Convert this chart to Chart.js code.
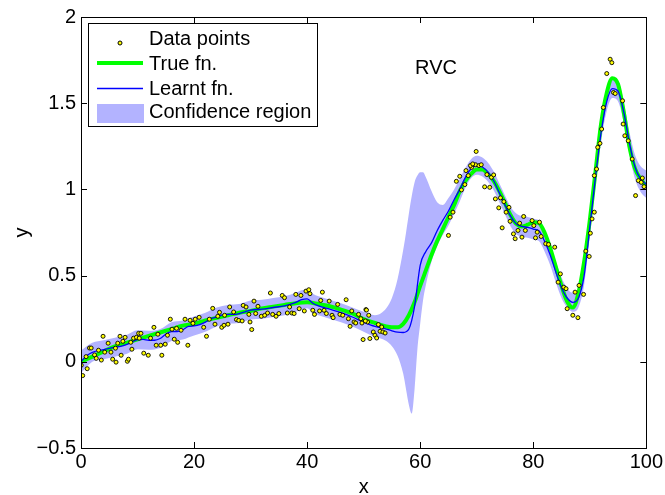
<!DOCTYPE html>
<html>
<head>
<meta charset="utf-8">
<script src="https://cdn.jsdelivr.net/npm/chart.js@4.4.0/dist/chart.umd.min.js"></script>
<style>
    html, body { margin: 0; padding: 0; background: #FFFFFF; }
    #grafico { display: block; }
</style>
</head>
<body>
<canvas id="grafico" width="665" height="495"></canvas>
<script>
// valores (estimados)
const pontosDados = [
    [0.05,-0.02],[0.3,-0.08],[1.1,-0.04],[0.9,0.03],[1.5,0.08],[1.8,0.08],[2.4,0.04],[2.7,0.02],[3.1,0.067],[3.6,0.01],
    [3.9,0.148],[4.2,0.056],[4.8,0.108],[5.3,0.056],[5.6,0.015],[6.2,-0.002],[6.1,0.079],[6.5,0.108],[6.9,0.148],[7.1,0.038],
    [7.4,0.119],[7.8,0.142],[8.2,0.003],[8.4,0.015],[8.8,0.113],[9.0,0.073],[9.3,0.137],[9.8,0.142],[10.2,0.165],[10.6,0.165],
    [10.3,0.137],[11.1,0.05],[11.9,0.038],[12.3,0.137],[12.9,0.2],[13.3,0.096],[13.6,0.16],[14.1,0.096],[14.3,0.038],[14.9,0.102],
    [15.3,0.154],[15.8,0.247],[16.1,0.189],[16.5,0.131],[16.9,0.194],[17.1,0.113],[17.7,0.183],[18.4,0.247],[18.9,0.096],[19.3,0.241],
    [19.8,0.223],[20.2,0.247],[20.9,0.258],[21.7,0.2],[22.2,0.148],[22.7,0.247],[23.3,0.31],[23.7,0.218],[24.2,0.264],[24.5,0.287],
    [24.9,0.2],[25.3,0.212],[25.4,0.27],[26.3,0.318],[26.0,0.218],[27.0,0.289],[27.5,0.245],[27.9,0.24],[28.5,0.237],[28.7,0.327],
    [29.2,0.318],[29.7,0.275],[29.9,0.231],[30.2,0.187],[30.6,0.352],[30.9,0.28],[31.3,0.322],[31.9,0.264],[32.5,0.27],[33.0,0.283],
    [33.5,0.399],[33.9,0.275],[34.5,0.264],[35.0,0.28],[35.6,0.385],[36.0,0.372],[36.5,0.283],[36.9,0.318],[37.3,0.283],[37.7,0.28],
    [38.0,0.391],[38.6,0.308],[38.9,0.385],[39.5,0.295],[39.8,0.41],[40.3,0.418],[40.5,0.395],[41.0,0.299],[41.3,0.275],[42.2,0.295],
    [42.4,0.356],[42.7,0.404],[43.0,0.299],[43.4,0.28],[43.9,0.352],[44.4,0.27],[44.6,0.256],[45.4,0.333],[45.8,0.275],[46.3,0.27],
    [46.9,0.36],[47.3,0.25],[47.6,0.206],[47.9,0.295],[48.3,0.231],[48.6,0.225],[49.1,0.275],[49.5,0.25],[49.9,0.129],[50.4,0.303],
    [50.7,0.231],[49.7,0.225],[50.5,0.30],[50.3,0.237],[50.9,0.27],[51.1,0.135],[51.7,0.173],[52.0,0.154],[52.3,0.138],[52.6,0.216],
    [52.9,0.177],[53.2,0.202],[53.4,0.173],[53.8,0.167],
    [65.0,0.733],[65.3,0.839],[65.8,0.868],[66.4,1.047],[67.0,1.076],[67.3,0.997],[67.9,1.028],[68.1,1.109],[68.5,1.08],[69.1,1.128],
    [69.8,1.143],[68.9,1.138],[69.3,1.148],[69.9,1.22],[70.4,1.138],[70.8,1.143],[71.8,1.086],[72.6,1.07],[73.0,1.084],[71.4,1.015],
    [72.3,1.012],[73.3,0.945],[73.9,0.893],[74.2,0.951],[74.8,0.929],[75.2,0.868],[75.7,0.896],[74.5,0.777],[75.9,0.815],[76.5,0.742],
    [76.8,0.714],[77.3,0.762],[77.6,0.804],[78.0,0.723],[78.3,0.843],[78.6,0.762],[79.8,0.819],[80.1,0.79],[80.4,0.719],[80.7,0.752],
    [81.1,0.81],[81.4,0.727],[82.2,0.685],[82.7,0.681],[83.8,0.665],[84.4,0.462],[84.8,0.51],[85.4,0.433],[85.8,0.424],[86.0,0.308],
    [87.0,0.27],[87.9,0.256],[87.4,0.404],[88.1,0.443],[88.9,0.391],[89.3,0.642],[89.9,0.611],[90.1,0.746],[90.4,0.829],[90.8,0.868],
    [90.8,1.08],[91.2,1.118],[91.4,1.244],[91.8,1.267],[92.1,1.35],[92.4,1.475],[93.0,1.672],[93.6,1.755],[93.9,1.735],[94.2,1.562],
    [94.5,1.556],[95.8,1.514],[95.9,1.379],[96.2,1.311],[96.8,1.282],[97.5,1.176],[98.1,0.964],[98.6,1.051],[99.1,1.041],[99.3,1.066],
    [99.6,1.016]
];

const xFuncaoReal = [0,2,4,6,8,10,12,14,16,18,20,22,24,26,28,30,32,34,36,38,40,42,44,46,48,50,52,54,
    55,56,57,58,59,60,61,62,63,64,65,66,67,68,69,70,71,72,73,74,75,76,77,78,79,80,81,82,83,84,
    85,86,87,88,89,90,91,92,93,94,95,96,97,98,99,100];
const yFuncaoReal = [0.0,0.03,0.06,0.09,0.11,0.13,0.15,0.17,0.19,0.21,0.22,0.24,0.255,0.27,0.285,0.295,0.31,0.32,0.33,0.34,
    0.345,0.335,0.322,0.303,0.28,0.248,0.225,0.205,
    0.2,0.2,0.22,0.27,0.345,0.44,0.53,0.62,0.7,0.77,0.84,0.91,0.99,1.05,1.09,1.115,1.115,1.09,1.05,0.99,
    0.92,0.85,0.8,0.785,0.795,0.81,0.805,0.75,0.66,0.55,0.44,0.35,0.315,0.4,0.58,0.82,1.1,1.38,1.56,1.645,
    1.61,1.45,1.25,1.12,1.06,1.02];

const xFuncaoAprendida = [0,1,2,3,4,5,6,7,8,9,10,11,12,13,14,15,16,17,18,19,20,21,22,23,24,25,26,27,28,29,30,
    32,34,36,38,39,40,41,42,44,46,48,50,52,54,
    55,56,57,58,59,60,61,62,63,64,65,66,67,68,69,70,71,72,73,74,75,76,77,78,79,80,81,82,83,84,
    85,86,87,88,89,90,91,92,93,94,95,96,97,98,99,100];
const yFuncaoAprendida = [0.0,0.035,0.055,0.065,0.07,0.078,0.085,0.09,0.1,0.115,
    0.128,0.13,0.125,0.125,0.135,0.16,0.175,0.175,0.185,0.205,
    0.208,0.215,0.23,0.25,0.26,0.272,0.275,0.275,0.28,0.29,0.3,
    0.305,0.315,0.325,0.345,0.36,0.365,0.34,0.325,0.305,0.285,0.26,0.23,0.205,0.19,
    0.18,0.172,0.17,0.19,0.32,0.56,0.64,0.69,0.76,0.82,0.875,0.94,1.0,1.07,1.12,1.14,1.13,1.1,1.05,0.98,
    0.91,0.845,0.8,0.785,0.78,0.77,0.76,0.7,0.62,0.52,0.43,0.37,0.345,0.37,0.5,0.78,1.07,1.33,1.51,1.585,
    1.57,1.45,1.27,1.13,1.06,1.03];

const xRegiao = [0,2,4,6,8,10,12,14,16,18,20,22,24,26,28,30,32,34,36,38,39,40,41,42,44,46,48,50,52,
    53,54,55,56,57,57.5,58,58.5,59,59.5,60,60.5,61,
    62,63,64,65,66,67,68,69,70,71,72,73,74,75,76,77,78,79,80,81,82,83,84,85,86,87,88,89,90,91,
    92,93,94,95,96,97,98,99,100];
const yRegiaoSup = [0.065,0.11,0.125,0.14,0.155,0.183,0.18,0.19,0.23,0.24,
    0.263,0.285,0.315,0.33,0.335,0.355,0.36,0.37,0.38,0.4,
    0.415,0.42,0.395,0.38,0.36,0.34,0.315,0.29,0.27,
    0.28,0.31,0.37,0.48,0.65,0.75,0.86,0.96,1.04,1.08,1.1,1.1,1.07,
    0.99,0.925,0.91,0.95,1.0,1.06,1.125,1.175,1.195,1.185,
    1.155,1.105,1.035,0.965,0.9,0.86,0.845,0.84,0.83,0.82,
    0.76,0.68,0.58,0.49,0.425,0.4,0.425,0.555,0.835,1.125,
    1.385,1.57,1.645,1.63,1.51,1.335,1.2,1.135,1.11];
const yRegiaoInf = [-0.065,0.0,0.015,0.03,0.045,0.073,0.07,0.08,0.12,0.13,
    0.153,0.175,0.205,0.22,0.225,0.245,0.25,0.26,0.27,0.29,
    0.305,0.31,0.285,0.27,0.25,0.23,0.205,0.175,0.145,
    0.135,0.12,0.09,0.035,-0.07,-0.16,-0.25,-0.3,-0.16,0.07,0.22,0.355,0.445,
    0.58,0.67,0.735,0.79,0.86,0.93,1.01,1.065,1.085,1.075,
    1.045,0.995,0.925,0.855,0.785,0.74,0.725,0.72,0.71,0.7,
    0.64,0.56,0.46,0.37,0.315,0.29,0.315,0.445,0.725,1.015,
    1.275,1.455,1.53,1.51,1.39,1.205,1.06,0.985,0.95];

const ticksX = [0, 20, 40, 60, 80, 100];
const ticksY = [-0.5, 0, 0.5, 1, 1.5, 2];
const rotulosLegenda = ['Data points', 'True fn.', 'Learnt fn.', 'Confidence region'];
const textoAnotacao = 'RVC';
const posicaoAnotacao = [62.8, 1.70];

const fonte = '"Liberation Sans", Arial, sans-serif';
const corPonto = '#FFFF00';
const corReal = '#00FF00';
const corAprendida = '#0000FF';
const corRegiao = '#B3B3FF';

function juntarXY(xs, ys) {
    return xs.map((x, i) => ({ x: x, y: ys[i] }));
}

function rotuloNumero(v) {
    return v < 0 ? '\u2212' + Math.abs(v) : String(v);
}

// moldura e ticks para dentro, estilo matlab
const pluginMoldura = {
    id: 'moldura',
    afterDatasetsDraw(chart) {
        const { ctx, chartArea: a, scales } = chart;
        ctx.save();
        ctx.strokeStyle = '#000000';
        ctx.lineWidth = 1;
        ctx.beginPath();
        scales.x.ticks.forEach(t => {
            const px = Math.round(scales.x.getPixelForValue(t.value)) + 0.5;
            ctx.moveTo(px, a.bottom); ctx.lineTo(px, a.bottom - 6);
            ctx.moveTo(px, a.top); ctx.lineTo(px, a.top + 6);
        });
        scales.y.ticks.forEach(t => {
            const py = Math.round(scales.y.getPixelForValue(t.value)) + 0.5;
            ctx.moveTo(a.left, py); ctx.lineTo(a.left + 6, py);
            ctx.moveTo(a.right, py); ctx.lineTo(a.right - 6, py);
        });
        ctx.stroke();
        ctx.strokeRect(Math.round(a.left) + 0.5, Math.round(a.top) + 0.5,
            Math.round(a.right - a.left), Math.round(a.bottom - a.top));
        ctx.restore();
    }
};

// legenda dentro do grafico + texto RVC
const pluginLegenda = {
    id: 'legendaInterna',
    afterDraw(chart) {
        const { ctx, chartArea: a, scales } = chart;
        ctx.save();

        ctx.font = '20px ' + fonte;
        ctx.fillStyle = '#000000';
        ctx.textAlign = 'center';
        ctx.textBaseline = 'middle';
        ctx.fillText(textoAnotacao,
            scales.x.getPixelForValue(posicaoAnotacao[0]),
            scales.y.getPixelForValue(posicaoAnotacao[1]));

        const caixa = { x: a.left + 7.5, y: a.top + 6.5, w: 229, h: 103 };
        ctx.fillStyle = '#FFFFFF';
        ctx.fillRect(caixa.x, caixa.y, caixa.w, caixa.h);
        ctx.strokeStyle = '#000000';
        ctx.lineWidth = 1;
        ctx.strokeRect(caixa.x, caixa.y, caixa.w, caixa.h);

        const x0 = a.left + 16;
        const x1 = a.left + 62;
        const xTexto = a.left + 68;
        const linhasTexto = [a.top + 22, a.top + 47, a.top + 72, a.top + 95.5];

        // marcador
        ctx.beginPath();
        ctx.arc((x0 + x1) / 2, a.top + 26, 2, 0, Math.PI * 2);
        ctx.fillStyle = corPonto;
        ctx.fill();
        ctx.lineWidth = 1;
        ctx.strokeStyle = '#000000';
        ctx.stroke();

        ctx.lineCap = 'butt';
        ctx.beginPath();
        ctx.moveTo(x0, a.top + 46); ctx.lineTo(x1, a.top + 46);
        ctx.strokeStyle = corReal; ctx.lineWidth = 4;
        ctx.stroke();

        ctx.beginPath();
        ctx.moveTo(x0, a.top + 71.5); ctx.lineTo(x1, a.top + 71.5);
        ctx.strokeStyle = corAprendida; ctx.lineWidth = 1.3;
        ctx.stroke();

        ctx.fillStyle = corRegiao;
        ctx.fillRect(x0, a.top + 87, x1 - x0 + 1, 19);

        ctx.fillStyle = '#000000';
        ctx.textAlign = 'left';
        ctx.textBaseline = 'middle';
        rotulosLegenda.forEach((r, i) => ctx.fillText(r, xTexto, linhasTexto[i]));

        ctx.restore();
    }
};

const ctx = document.getElementById('grafico').getContext('2d');

new Chart(ctx, {
    type: 'scatter',
    data: {
        datasets: [
            {
                label: rotulosLegenda[0],
                data: pontosDados.map(p => ({ x: p[0], y: p[1] })),
                pointRadius: 2,
                pointBorderWidth: 0.9,
                pointBackgroundColor: corPonto,
                pointBorderColor: '#000000',
                showLine: false
            },
            {
                label: rotulosLegenda[2],
                data: juntarXY(xFuncaoAprendida, yFuncaoAprendida),
                showLine: true,
                borderColor: corAprendida,
                borderWidth: 1.3,
                pointRadius: 0,
                cubicInterpolationMode: 'monotone',
                fill: false
            },
            {
                label: rotulosLegenda[1],
                data: juntarXY(xFuncaoReal, yFuncaoReal),
                showLine: true,
                borderColor: corReal,
                borderWidth: 4,
                pointRadius: 0,
                cubicInterpolationMode: 'monotone',
                fill: false
            },
            {
                label: rotulosLegenda[3],
                data: juntarXY(xRegiao, yRegiaoSup),
                showLine: true,
                borderWidth: 0,
                borderColor: 'rgba(0,0,0,0)',
                backgroundColor: corRegiao,
                pointRadius: 0,
                cubicInterpolationMode: 'monotone',
                fill: '+1'
            },
            {
                label: 'inferior',
                data: juntarXY(xRegiao, yRegiaoInf),
                showLine: true,
                borderWidth: 0,
                borderColor: 'rgba(0,0,0,0)',
                pointRadius: 0,
                cubicInterpolationMode: 'monotone',
                fill: false
            }
        ]
    },
    options: {
        responsive: false,
        animation: false,
        devicePixelRatio: 1,
        events: [],
        layout: { padding: { top: 16, right: 17, left: 0, bottom: 0 } },
        plugins: {
            legend: { display: false },
            tooltip: { enabled: false }
        },
        scales: {
            x: {
                type: 'linear',
                min: 0,
                max: 100,
                grid: { display: false, drawTicks: false },
                border: { display: false },
                afterBuildTicks: (s) => { s.ticks = ticksX.map(v => ({ value: v })); },
                afterFit: (s) => { s.height = 47; },
                ticks: {
                    color: '#000000',
                    font: { family: fonte, size: 20 },
                    padding: 2,
                    maxRotation: 0,
                    callback: (v) => rotuloNumero(v)
                },
                title: {
                    display: true,
                    text: 'x',
                    color: '#000000',
                    font: { family: fonte, size: 20, lineHeight: 1 },
                    padding: { top: 0, bottom: -2 }
                }
            },
            y: {
                type: 'linear',
                min: -0.5,
                max: 2,
                grid: { display: false, drawTicks: false },
                border: { display: false },
                afterBuildTicks: (s) => { s.ticks = ticksY.map(v => ({ value: v })); },
                afterFit: (s) => { s.width = 81; },
                ticks: {
                    color: '#000000',
                    font: { family: fonte, size: 20 },
                    padding: 5,
                    callback: (v) => rotuloNumero(v)
                },
                title: {
                    display: true,
                    text: 'y',
                    color: '#000000',
                    font: { family: fonte, size: 20, lineHeight: 1 },
                    padding: { top: 12, bottom: 0 }
                }
            }
        }
    },
    plugins: [pluginMoldura, pluginLegenda]
});
</script>
</body>
</html>
